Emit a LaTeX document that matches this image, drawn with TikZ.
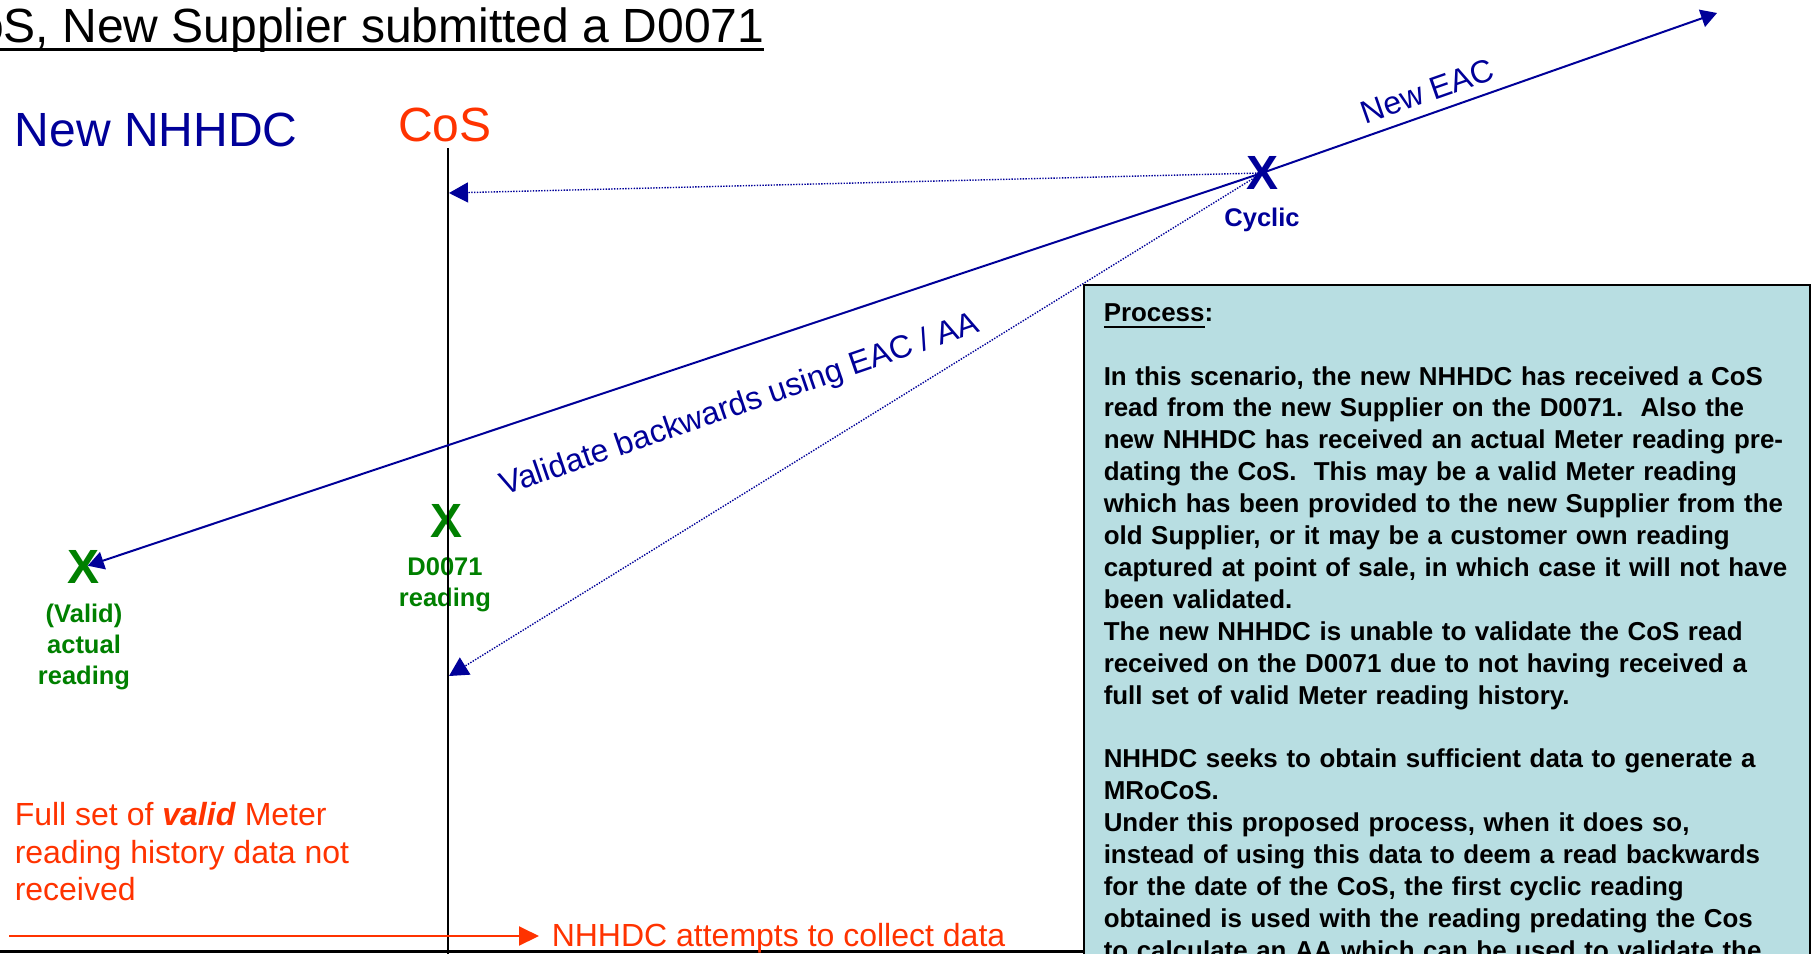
\documentclass[tikz,border=0pt]{standalone}
\usepackage{fontspec}
\setmainfont{Liberation Sans}
\usetikzlibrary{arrows.meta}
\definecolor{nhhdcblue}{RGB}{0,0,153}
\definecolor{cosred}{RGB}{255,51,0}
\definecolor{readgreen}{RGB}{0,128,0}
\definecolor{boxfill}{RGB}{184,222,226}
\newcommand{\headsize}{\fontsize{48}{58}\selectfont}
\newcommand{\midsize}{\fontsize{32}{37.5}\selectfont}
\newcommand{\boxsize}{\fontsize{25.9}{31.9}\selectfont\bfseries}
\newcommand{\undertext}[3]{\setbox0=\hbox{#3}\rlap{\rule[#1]{\wd0}{#2}}\box0}
\tikzstyle{textonly}=[inner sep=0pt]
\tikzstyle{readx}=[inner sep=0pt, font=\fontsize{48}{48}\selectfont\bfseries]
\tikzstyle{readlabel}=[inner sep=0pt, anchor=north, align=center, font=\fontsize{25.5}{31}\selectfont\bfseries]
\tikzstyle{eacarrow}=[draw=nhhdcblue, line width=2pt, -{Triangle[length=16pt, width=18pt]}]
\tikzstyle{dotarrow}=[draw=nhhdcblue, line width=1.4pt, dash pattern=on 1.4pt off 1.4pt, -{Triangle[length=19pt, width=20pt]}]
\tikzstyle{collectarrow}=[draw=cosred, line width=2pt, -{Triangle[length=20pt, width=19pt]}]
\tikzstyle{processstyle}=[draw=black, fill=boxfill, line width=2pt, inner sep=0pt]

\begin{document}
\begin{tikzpicture}[x=1pt, y=-1pt, line width=1.5pt]
            \useasboundingbox (0,0) rectangle (1811,953);
            \clip (0,0) rectangle (1811,953);
            \fill[white] (0,0) rectangle (1811,953);

            \node[textonly, font=\headsize, anchor=base east] (title) at (765,42.5)
                {\undertext{-8pt}{3pt}{CoS, New Supplier submitted a D0071}};
            \node[textonly, font=\headsize, text=nhhdcblue, anchor=base west] (nhhdc) at (14,146) {New NHHDC};
            \node[textonly, font=\headsize, text=cosred, anchor=base] (cos) at (445,141) {CoS};

            \node[processstyle, anchor=north west, minimum width=726pt, minimum height=720pt] (processbox) at (1083,284) {};
            \node[textonly, anchor=north west, text width=700pt, align=left, font=\boxsize] (processtext) at (1103,298.2)
                {\strut\undertext{-7pt}{2pt}{Process}:\\
                \mbox{}\\
                In this scenario, the new NHHDC has received a CoS\\
                read from the new Supplier on the D0071.\ \ Also the\\
                new NHHDC has received an actual Meter reading pre-\\
                dating the CoS.\ \ This may be a valid Meter reading\\
                which has been provided to the new Supplier from the\\
                old Supplier, or it may be a customer own reading\\
                captured at point of sale, in which case it will not have\\
                been validated.\\
                The new NHHDC is unable to validate the CoS read\\
                received on the D0071 due to not having received a\\
                full set of valid Meter reading history.\\
                \mbox{}\\
                NHHDC seeks to obtain sufficient data to generate a\\
                MRoCoS.\\
                Under this proposed process, when it does so,\\
                instead of using this data to deem a read backwards\\
                for the date of the CoS, the first cyclic reading\\
                obtained is used with the reading predating the Cos\\
                to calculate an AA which can be used to validate the};

            \node[readx, text=nhhdcblue] (cyclic) at (1262,173) {X};
            \node[textonly, anchor=base, text=nhhdcblue, font=\fontsize{25.5}{31}\selectfont\bfseries] (cycliclbl) at (1262,226) {Cyclic};
            \node[readx, text=readgreen] (d0071) at (446.5,521) {X};
            \node[readlabel, text=readgreen] (d0071lbl) at (445,553.3) {\strut D0071\\reading};
            \node[readx, text=readgreen] (valid) at (84,567) {X};
            \node[readlabel, text=readgreen] (validlbl) at (84,600.3) {\strut (Valid)\\actual\\reading};

            \node[textonly, anchor=north west, align=left, font=\midsize, text=cosred] (notreceived) at (14,798.75)
                {\strut Full set of \textbf{\textit{valid}} Meter\\reading history data not\\received};

            \coordinate (cosTop) at (448,148);
            \coordinate (cosBot) at (448,960);
            \coordinate (cosA) at (449,193);
            \coordinate (cosB) at (449,676);
            \coordinate (newEAC) at (1717,13);
            \coordinate (axisstart) at (0,951.5);
            \coordinate (collectstart) at (9,936);
            \coordinate (collecttip) at (539,936);

            \draw (cosTop) -- (cosBot);
            \draw[eacarrow] (cyclic.center) -- (newEAC)
                node[textonly, sloped, above=10pt, pos=0.38, font=\midsize, text=nhhdcblue] (neweaclbl) {New EAC};
            \draw[eacarrow, shorten >=4pt] (cyclic.center) -- (valid.center);
            \draw[dotarrow] (cyclic.center) -- (cosA);
            \draw[dotarrow] (cyclic.center) -- (cosB);
            \node[textonly, rotate=19, font=\midsize, text=nhhdcblue] (validate) at (740,406) {Validate backwards using EAC / AA};

            \draw[line width=2.5pt] (axisstart) -- (axisstart -| processbox.west);
            \draw[collectarrow] (collectstart) -- (collecttip);
            \node[textonly, anchor=base west, font=\midsize, text=cosred] (collect) at (551,946) {NHHDC attempts to collect data};
        \end{tikzpicture}
\end{document}
